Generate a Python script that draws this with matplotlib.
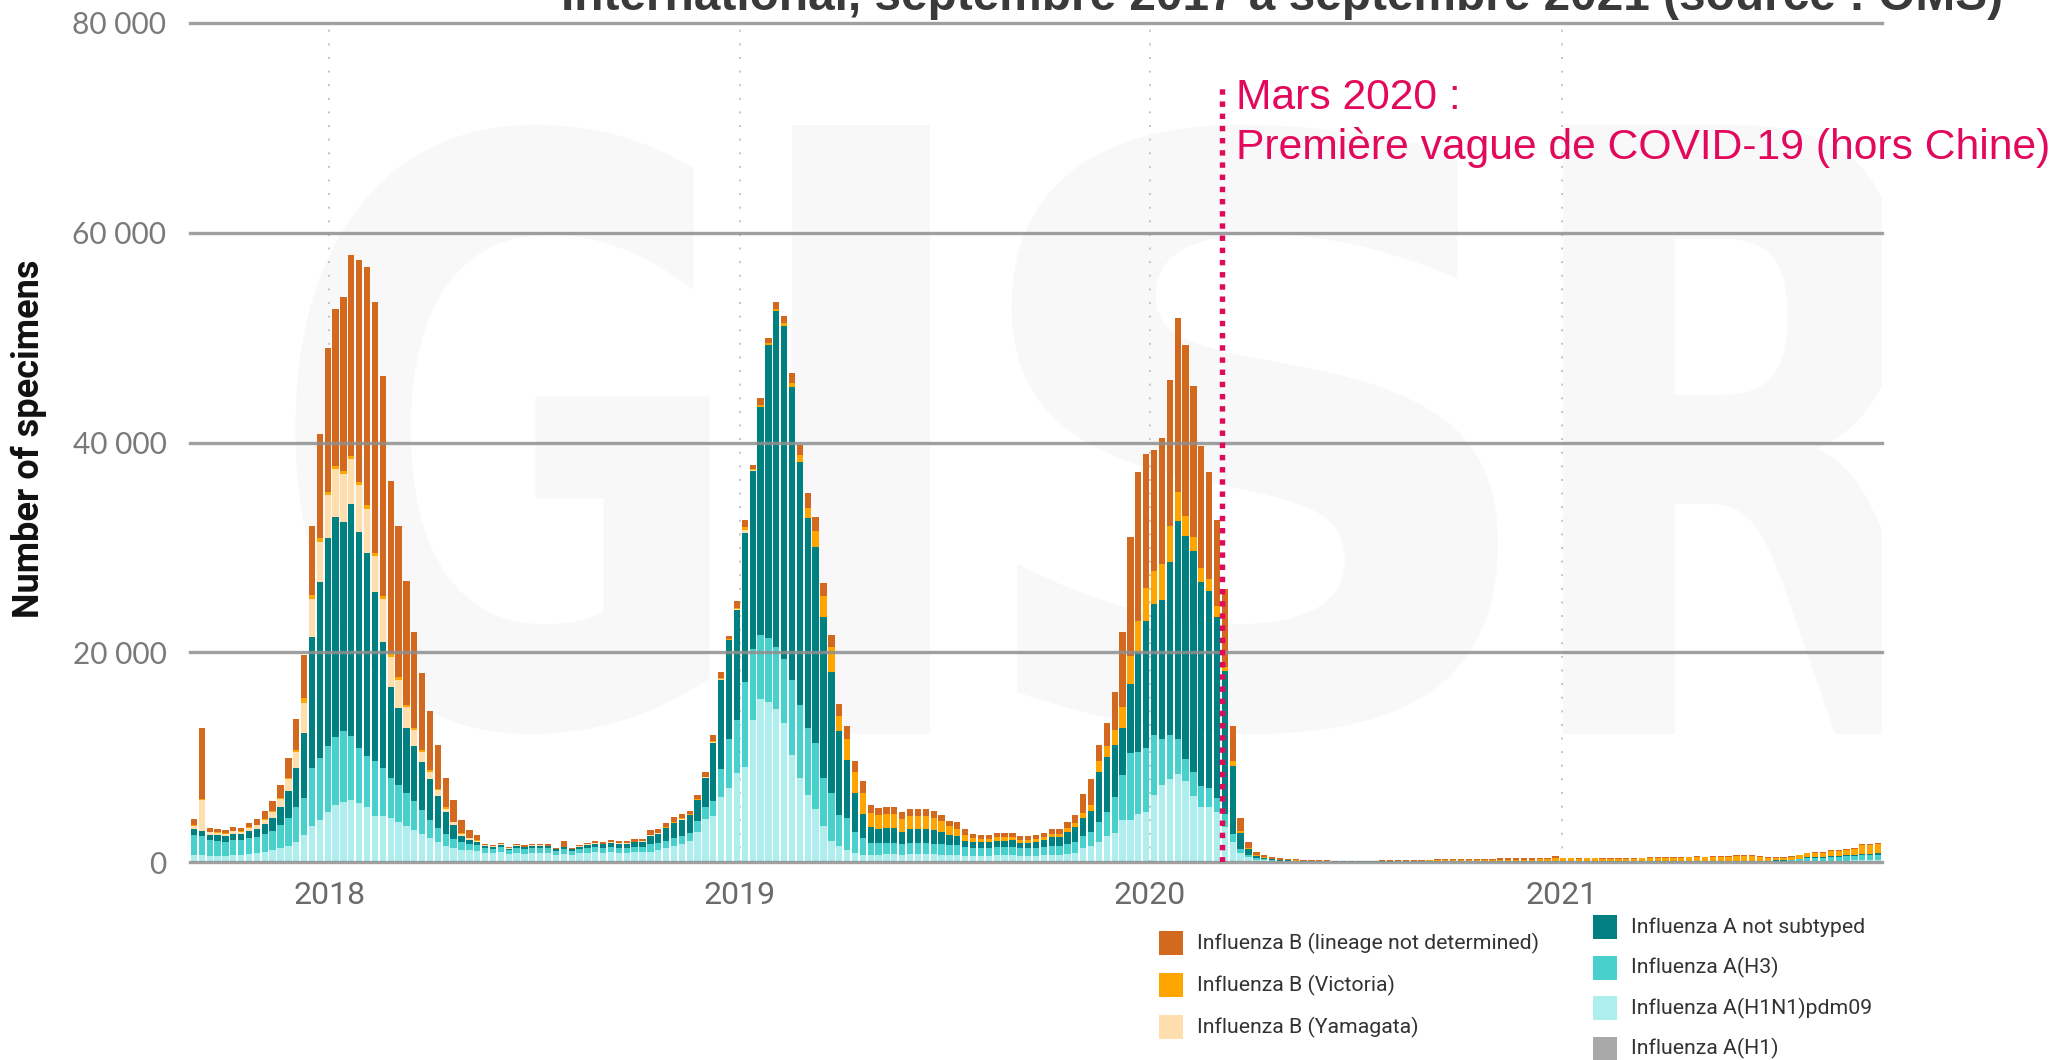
import numpy as np
import matplotlib
matplotlib.use("Agg")
import matplotlib.pyplot as plt
from matplotlib.patches import Rectangle, PathPatch
from matplotlib.textpath import TextPath
from matplotlib.font_manager import FontProperties
from matplotlib.transforms import Affine2D

# ---------------- data (weekly specimen counts) ----------------
WEEK0 = np.datetime64("2017-08-30")          # start of first weekly bar
YEAR_LABELS = ["2018", "2019", "2020", "2021"]
YEAR_DATES = ["2018-01-01", "2019-01-01", "2020-01-01", "2021-01-01"]
COVID_DATE = "2020-03-05"

h1n1 = [700, 700, 600, 600, 600, 650, 700, 800, 900, 1000,
        1100, 1300, 1500, 1900, 2600, 3450, 4000, 4800, 5400, 5750,
        5950, 5650, 5200, 4400, 4400, 4200, 3800, 3450, 3060, 2680,
        2300, 1900, 1530, 1340, 1150, 1100, 1050, 900, 850, 950,
        750, 900, 800, 900, 900, 850, 700, 800, 700, 850,
        900, 950, 900, 950, 900, 900, 950, 950, 1000, 1100,
        1300, 1500, 1700, 2000, 2900, 4100, 4400, 6200, 7100, 8500,
        9100, 13500, 15500, 15300, 14600, 13300, 10200, 8000, 6400, 5100,
        3400, 2000, 1500, 1100, 900, 700, 700, 700, 750, 750,
        700, 750, 750, 750, 750, 700, 700, 650, 600, 600,
        600, 600, 650, 650, 650, 600, 600, 600, 650, 700,
        700, 800, 900, 1300, 1500, 1930, 2460, 2800, 4040, 4040,
        4560, 4740, 6420, 7370, 7900, 8420, 7720, 6320, 5270, 5270,
        4740, 3330, 1930, 880, 450, 200, 150, 100, 80, 60,
        50, 40, 30, 30, 30, 25, 25, 25, 25, 25,
        25, 25, 25, 30, 30, 30, 30, 35, 35, 35,
        40, 40, 40, 40, 40, 40, 40, 40, 40, 40,
        40, 40, 40, 40, 30, 30, 30, 30, 30, 30,
        30, 30, 30, 30, 30, 30, 30, 30, 30, 30,
        30, 30, 30, 30, 30, 30, 30, 30, 30, 30,
        30, 30, 30, 40, 50, 80, 100, 100, 120, 120,
        130, 150, 180, 190, 200]

h3 = [1900, 1800, 1500, 1400, 1350, 1450, 1400, 1500, 1500, 1650,
      1900, 2200, 2700, 3300, 3500, 5550, 5960, 6300, 6500, 6700,
      6050, 5250, 4950, 5200, 4600, 3800, 3500, 3150, 2800, 2300,
      1700, 1350, 1150, 840, 750, 620, 600, 450, 420, 450,
      350, 450, 420, 450, 450, 450, 350, 450, 350, 420,
      450, 450, 420, 450, 420, 420, 450, 450, 700, 700,
      750, 800, 800, 800, 1000, 1100, 1400, 2700, 4600, 5000,
      8100, 6800, 6100, 6100, 5900, 6100, 7200, 7000, 6400, 6200,
      4600, 4600, 3000, 3100, 2000, 1600, 1100, 1100, 1100, 1100,
      1000, 1050, 1050, 1050, 1000, 1000, 900, 950, 800, 750,
      750, 750, 800, 800, 800, 700, 700, 700, 750, 800,
      800, 900, 1000, 1200, 1400, 1930, 2280, 3400, 4210, 6310,
      5970, 6140, 5680, 4390, 4200, 3340, 2080, 2280, 1930, 1750,
      1400, 1230, 700, 350, 250, 150, 100, 80, 60, 50,
      40, 30, 25, 20, 20, 20, 20, 15, 15, 20,
      20, 20, 20, 20, 20, 20, 25, 25, 25, 25,
      30, 30, 30, 30, 30, 30, 30, 30, 30, 30,
      30, 30, 30, 30, 30, 30, 30, 30, 30, 25,
      25, 25, 25, 25, 30, 30, 30, 30, 30, 30,
      30, 35, 35, 35, 40, 40, 40, 40, 40, 50,
      60, 80, 100, 130, 200, 300, 320, 320, 380, 400,
      400, 430, 480, 480, 500]

a_not_subtyped = [500, 500, 500, 550, 550, 600, 600, 650, 750, 950,
                  1200, 1700, 2600, 3800, 6200, 12450, 16740, 19800, 21000, 19950,
                  22100, 20600, 19350, 16100, 12000, 8700, 7400, 6200, 5240, 4580,
                  3930, 3050, 2120, 1380, 600, 380, 300, 200, 180, 220,
                  170, 200, 200, 200, 200, 200, 150, 150, 160, 200,
                  280, 350, 370, 420, 420, 420, 500, 550, 800, 900,
                  1150, 1400, 1550, 1650, 2000, 2800, 5500, 8450, 9500, 10500,
                  14200, 17000, 21800, 27900, 32000, 31700, 27900, 23100, 20000, 18700,
                  15400, 11500, 8000, 5500, 3650, 2240, 1500, 1300, 1400, 1400,
                  1200, 1300, 1350, 1350, 1300, 1150, 950, 850, 650, 550,
                  550, 550, 600, 600, 650, 550, 550, 600, 700, 850,
                  850, 1150, 1400, 1700, 2000, 4740, 5260, 5000, 4550, 6650,
                  9470, 12120, 12500, 13190, 16500, 20780, 21260, 21060, 19500, 18780,
                  17200, 13690, 6500, 1580, 530, 250, 150, 100, 70, 60,
                  50, 40, 35, 30, 30, 30, 30, 30, 30, 30,
                  30, 30, 35, 35, 35, 40, 40, 45, 50, 50,
                  50, 55, 55, 60, 60, 60, 60, 65, 65, 65,
                  65, 65, 70, 70, 50, 50, 45, 50, 50, 45,
                  45, 45, 45, 45, 45, 45, 50, 50, 50, 50,
                  50, 50, 50, 50, 50, 50, 50, 50, 50, 50,
                  40, 40, 40, 50, 60, 60, 60, 60, 80, 80,
                  90, 100, 120, 130, 130]

b_yamagata = [300, 2900, 250, 250, 200, 250, 200, 300, 350, 450,
              600, 800, 1100, 1500, 2900, 3650, 3800, 4100, 4600, 4600,
              4300, 4400, 4200, 3500, 4100, 2800, 2700, 2000, 1500, 940,
              670, 600, 300, 240, 200, 150, 100, 50, 50, 50,
              30, 50, 40, 50, 50, 40, 30, 50, 30, 40,
              40, 50, 40, 50, 40, 40, 50, 50, 50, 50,
              50, 50, 50, 50, 50, 100, 100, 100, 0, 100,
              300, 50, 0, 0, 0, 0, 0, 0, 0, 0,
              0, 0, 0, 0, 0, 0, 0, 0, 0, 0,
              0, 0, 0, 0, 0, 0, 0, 0, 0, 0,
              0, 0, 0, 0, 0, 0, 0, 0, 0, 0,
              0, 0, 0, 0, 0, 0, 0, 0, 0, 0,
              0, 0, 0, 0, 0, 0, 0, 0, 0, 0,
              0, 0, 0, 0, 0, 0, 0, 0, 0, 0,
              0, 0, 0, 0, 0, 0, 0, 0, 0, 0,
              0, 0, 0, 0, 0, 0, 0, 0, 0, 0,
              0, 0, 0, 0, 0, 0, 0, 0, 0, 0,
              0, 0, 0, 0, 0, 0, 0, 0, 0, 0,
              0, 0, 0, 0, 0, 0, 0, 0, 0, 0,
              0, 0, 0, 0, 0, 0, 0, 0, 0, 0,
              0, 0, 0, 0, 0, 0, 0, 0, 0, 0,
              0, 0, 0, 0, 0]

b_victoria = [100, 100, 50, 50, 50, 50, 50, 50, 50, 60,
              60, 100, 150, 200, 400, 400, 400, 300, 300, 300,
              300, 300, 300, 300, 300, 300, 250, 200, 200, 150,
              150, 100, 100, 50, 50, 50, 30, 0, 0, 0,
              0, 0, 0, 0, 0, 0, 0, 0, 0, 0,
              0, 0, 0, 0, 0, 0, 0, 0, 50, 50,
              50, 50, 50, 50, 50, 50, 100, 100, 100, 100,
              200, 150, 200, 200, 200, 300, 400, 700, 1000, 1600,
              2000, 2400, 1400, 2000, 2000, 2000, 1400, 1350, 1300, 1300,
              1200, 1250, 1200, 1200, 1150, 1050, 850, 650, 500, 350,
              300, 300, 300, 300, 300, 250, 250, 250, 300, 300,
              300, 400, 450, 500, 500, 1050, 1060, 1400, 1940, 2660,
              3000, 3150, 3100, 3450, 3400, 2730, 1970, 1370, 1300, 1230,
              1060, 350, 460, 170, 100, 50, 30, 20, 20, 20,
              10, 10, 10, 10, 10, 10, 10, 10, 10, 10,
              10, 15, 20, 20, 25, 30, 35, 40, 50, 55,
              60, 70, 75, 80, 85, 85, 90, 95, 95, 100,
              100, 110, 110, 200, 230, 230, 220, 230, 225, 210,
              210, 220, 230, 230, 240, 250, 260, 290, 310, 310,
              330, 340, 320, 340, 355, 335, 440, 490, 470, 345,
              290, 250, 230, 260, 310, 380, 390, 390, 440, 460,
              480, 580, 800, 830, 900]

b_not_determined = [600, 6800, 350, 290, 280, 330, 300, 400, 550, 750,
                    1000, 1250, 1900, 2900, 4100, 6500, 9900, 13700, 14900, 16600,
                    19200, 21200, 22700, 23900, 20900, 16500, 14350, 11800, 9100, 7350,
                    5650, 4200, 2800, 2050, 1250, 760, 490, 150, 150, 170,
                    130, 150, 130, 150, 150, 150, 110, 550, 100, 140,
                    170, 200, 180, 200, 190, 190, 210, 230, 420, 380,
                    450, 500, 450, 350, 370, 410, 650, 530, 260, 650,
                    700, 400, 650, 500, 700, 700, 900, 1000, 1400, 1300,
                    1200, 1100, 1200, 1260, 1040, 1170, 750, 710, 720, 720,
                    620, 660, 660, 660, 630, 570, 520, 700, 550, 390,
                    410, 410, 420, 420, 400, 375, 350, 390, 400, 450,
                    450, 610, 770, 1800, 2500, 1550, 2240, 3600, 7160, 11300,
                    14200, 12710, 11600, 12000, 14000, 16570, 16220, 14370, 11700, 10170,
                    8240, 7400, 3400, 1220, 600, 300, 200, 150, 120, 110,
                    100, 80, 70, 60, 60, 55, 55, 50, 50, 55,
                    55, 60, 60, 65, 70, 80, 80, 85, 90, 95,
                    100, 105, 110, 110, 115, 115, 120, 120, 120, 125,
                    125, 125, 130, 200, 80, 80, 75, 80, 75, 70,
                    70, 70, 70, 70, 75, 75, 80, 80, 80, 80,
                    80, 85, 85, 85, 85, 85, 90, 90, 90, 85,
                    80, 80, 80, 80, 80, 80, 80, 80, 80, 90,
                    100, 110, 120, 120, 110]

series = [
    ("Influenza A(H1N1)pdm09", h1n1, "#AFEEEE"),
    ("Influenza A(H3)", h3, "#48D1CC"),
    ("Influenza A not subtyped", a_not_subtyped, "#008080"),
    ("Influenza B (Yamagata)", b_yamagata, "#FFDEAD"),
    ("Influenza B (Victoria)", b_victoria, "#FFA500"),
    ("Influenza B (lineage not determined)", b_not_determined, "#D2691E"),
]
N = len(h1n1)
for _, vals, _c in series:
    assert len(vals) == N, (len(vals), N)

COL = {lab: c for lab, _, c in series}
COL["Influenza A(H1)"] = "#A9A9A9"

# ---------------- figure ----------------
W, H = 2056, 1060
fig = plt.figure(figsize=(W / 100, H / 100), dpi=100)
ax = fig.add_axes([190 / W, 1 - 862 / H, (1882 - 190) / W, (862 - 23) / H])
ax.set_xlim(0, N)
ax.set_ylim(0, 80000)
for s in ax.spines.values():
    s.set_visible(False)

# very faint watermark letters
wm_color = "#f8f8f8"
fp_wm = FontProperties(family="DejaVu Sans", weight="bold")
for ch, (x0, x1) in zip("GISR", [(13.4, 66.0), (76.5, 94.0), (104.4, 166.2), (174.5, 224.2)]):
    tp = TextPath((0, 0), ch, size=100, prop=fp_wm)
    ext = tp.get_extents()
    y0, y1 = 12200, 70300
    tr = (Affine2D().translate(-ext.x0, -ext.y0)
          .scale((x1 - x0) / ext.width, (y1 - y0) / ext.height)
          .translate(x0, y0))
    ax.add_patch(PathPatch(tr.transform_path(tp), fc=wm_color, ec="none",
                           zorder=0, clip_on=True))

# year positions from dates
year_pos = [(np.datetime64(d) - WEEK0) / np.timedelta64(7, "D") for d in YEAR_DATES]
for xp in year_pos:
    ax.axvline(xp, color="#c4c4c4", lw=1.4, ls=(0, (1, 6)), zorder=1)

x = np.arange(N) + 0.5
bottom = np.zeros(N)
for lab, vals, c in series:
    v = np.array(vals, dtype=float)
    ax.bar(x, v, bottom=bottom, width=0.8, color=c, edgecolor="none", zorder=2)
    bottom += v

# horizontal gridlines drawn above bars
for yv in [0, 20000, 40000, 60000, 80000]:
    ax.axhline(yv, color="#8f8f8f", lw=2.4, alpha=0.85, zorder=3, clip_on=False)

ax.set_yticks([0, 20000, 40000, 60000, 80000])
ax.set_yticklabels(["0", "20 000", "40 000", "60 000", "80 000"])
ax.set_xticks(year_pos)
ax.set_xticklabels(YEAR_LABELS)
ax.tick_params(axis="y", length=0, pad=17, labelsize=21.5, labelcolor="#7a7a7a")
ax.tick_params(axis="x", length=0, pad=14, labelsize=23, labelcolor="#6a6a6a")
for t in ax.get_yticklabels():
    t.set_fontfamily(["Lato", "DejaVu Sans"])
for t in ax.get_xticklabels():
    t.set_fontfamily(["Roboto", "DejaVu Sans"])

# y label
fig.text(29 / W, 1 - 439 / H, "Number of specimens", rotation=90, ha="center", va="center",
         fontsize=26, fontweight="bold", color="#111111", family=["Roboto", "DejaVu Sans"])

# title (partially cut at top, as in the source image)
fig.text(2003 / W, 1 - 10 / H, "International, septembre 2017 à septembre 2021 (source : OMS)",
         ha="right", va="baseline", fontsize=34.4, fontweight="bold", color="#3a3a3a",
         family=["Liberation Sans", "DejaVu Sans"])

# COVID annotation
covid_x = (np.datetime64(COVID_DATE) - WEEK0) / np.timedelta64(7, "D")
red = "#E2095C"
ax.plot([covid_x, covid_x], [0, 74000], color=red, lw=3.9,
        ls=(0, (1, 1.25)), solid_capstyle="butt", dash_capstyle="butt", zorder=5)
fig.text(1236 / W, 1 - 98 / H, "Mars 2020 :", ha="left", va="center", fontsize=30.7,
         color=red, family=["Liberation Sans", "DejaVu Sans"])
fig.text(1236 / W, 1 - 147 / H, "Première vague de COVID-19 (hors Chine)", ha="left",
         va="center", fontsize=30.7, color=red, family=["Liberation Sans", "DejaVu Sans"])

# legend (two columns, manual)
leg1 = ["Influenza B (lineage not determined)", "Influenza B (Victoria)", "Influenza B (Yamagata)"]
leg2 = ["Influenza A not subtyped", "Influenza A(H3)", "Influenza A(H1N1)pdm09", "Influenza A(H1)"]
sq = 24
for i, lab in enumerate(leg1):
    yc = 943 + 42 * i
    fig.add_artist(Rectangle((1159 / W, 1 - (yc + sq / 2) / H), sq / W, sq / H,
                             transform=fig.transFigure, color=COL[lab], lw=0))
    fig.text(1197 / W, 1 - yc / H, lab, ha="left", va="center", fontsize=15.3,
             color="#333333", family=["Roboto", "DejaVu Sans"])
for i, lab in enumerate(leg2):
    yc = 927 + 40.5 * i
    fig.add_artist(Rectangle((1593 / W, 1 - (yc + sq / 2) / H), sq / W, sq / H,
                             transform=fig.transFigure, color=COL[lab], lw=0))
    fig.text(1631 / W, 1 - yc / H, lab, ha="left", va="center", fontsize=15.3,
             color="#333333", family=["Roboto", "DejaVu Sans"])

fig.savefig("out.png", dpi=100, facecolor="white")
